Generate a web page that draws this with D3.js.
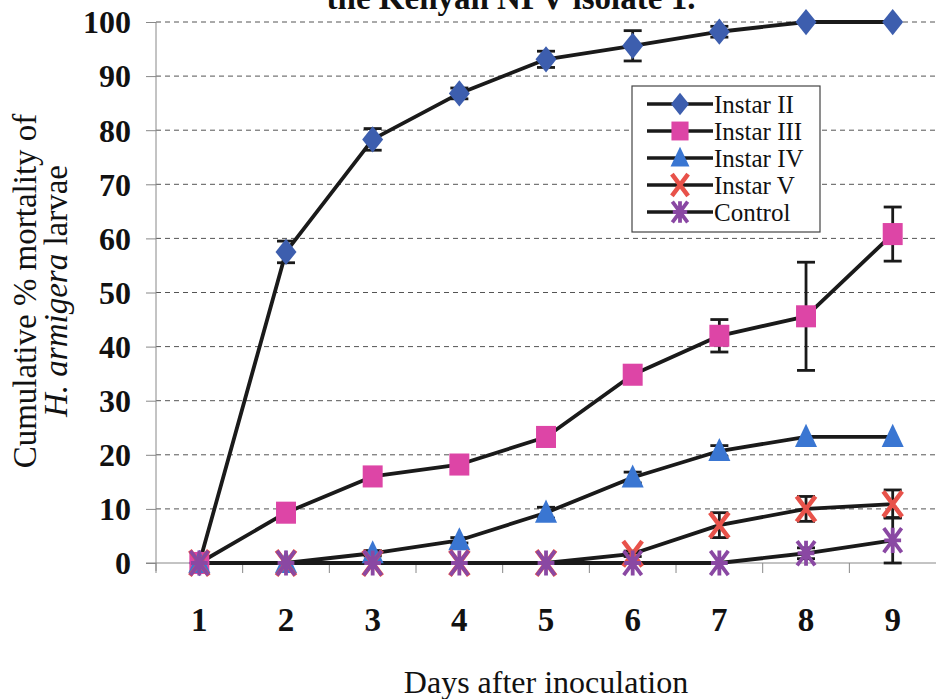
<!DOCTYPE html>
<html><head><meta charset="utf-8">
<script src="https://cdn.jsdelivr.net/npm/d3@7"></script>
<style>body{margin:0;background:#fff}svg{display:block}</style>
</head><body><svg id="c" width="936" height="699"></svg>
<script>
const days = ["1","2","3","4","5","6","7","8","9"];
const yTicks = [0,10,20,30,40,50,60,70,80,90,100];
const seriesNames = ["Instar II","Instar III","Instar IV","Instar V","Control"];
const instarII   = [0,57.5,78.3,86.8,93.1,95.6,98.2,100,100];
const instarIIErr= [0,2,2,1,1.5,2.8,1,0,0];
const instarIII  = [0,9.3,16,18.2,23.3,34.8,42,45.6,60.8];
const instarIIIErr=[0,1.5,1,1,1,1,3,10,5];
const instarIV   = [0,0,1.8,4.2,9.3,15.8,20.7,23.3,23.3];
const instarIVErr= [0,0,0.5,0.5,1,1,1,0,0];
const instarV    = [0,0,0,0,0,1.7,7,10,10.9];
const instarVErr = [0,0,0,0,0,0.5,2.3,2.3,2.6];
const control    = [0,0,0,0,0,0,0,1.8,4.2];
const controlErr = [0,0,0,0,0,0,0,1,4.2];
const colors = ["#3d5eae","#dd45a6","#3a76d2","#e8524a","#8a48a3"];
const shapes = ["diamond","square","triangle","x","asterisk"];
const values = [instarII,instarIII,instarIV,instarV,control];
const errs = [instarIIErr,instarIIIErr,instarIVErr,instarVErr,controlErr];
const FONT = "Liberation Serif";

const svg = d3.select("#c").attr("font-family",FONT);
const L=156,R=936,T=22,B=563;
const x = d3.scaleBand().domain(days).range([L,L+9*86.67]);
const y = d3.scaleLinear().domain([0,100]).range([B,T]);
const cx = d => x(d)+x.bandwidth()/2;

// title (partially clipped at top, as in the reference)
svg.append("text").attr("x",511).attr("y",9).attr("text-anchor","middle").attr("font-family",FONT)
  .attr("font-size",33).attr("font-weight","bold").attr("fill","#111").text("the Kenyan NPV isolate 1.");

// gridlines
svg.append("g").selectAll("line").data(yTicks.filter(t=>t>0)).join("line")
  .attr("x1",L).attr("x2",R).attr("y1",d=>y(d)).attr("y2",d=>y(d))
  .attr("stroke","#555").attr("stroke-width",1).attr("stroke-dasharray","5,4");

// y axis
const ya = svg.append("g").attr("transform",`translate(${L},0)`)
  .call(d3.axisLeft(y).tickValues(yTicks).tickSize(10).tickPadding(15));
ya.attr("font-family",FONT);
ya.select(".domain").attr("stroke","#888").attr("d",`M0,${B+8}V${T}`);
ya.selectAll(".tick line").attr("stroke","#888");
ya.selectAll("text").attr("font-size",32).attr("font-weight","bold")
  .attr("font-family",FONT).attr("fill","#111").attr("dy","0.34em");

// x axis
const xa = svg.append("g").attr("transform",`translate(0,${B})`)
  .call(d3.axisBottom(x).tickSize(0).tickPadding(45));
xa.attr("font-family",FONT);
xa.select(".domain").attr("stroke","#888").attr("d",`M${L-10},0H${R}`);
xa.selectAll("text").attr("font-size",33).attr("font-weight","bold")
  .attr("font-family",FONT).attr("fill","#111");
svg.append("g").selectAll("line").data(days).join("line")
  .attr("x1",d=>x(d)).attr("x2",d=>x(d)).attr("y1",B).attr("y2",B+10)
  .attr("stroke","#888");

// axis titles
svg.append("text").attr("x",546).attr("y",693).attr("text-anchor","middle").attr("font-family",FONT)
  .attr("font-size",32).attr("fill","#111").text("Days after inoculation");
const yt = svg.append("text").attr("transform","translate(36,291) rotate(-90)").attr("font-family",FONT)
  .attr("text-anchor","middle").attr("font-size",33).attr("fill","#111");
yt.append("tspan").attr("x",0).attr("y",0).text("Cumulative % mortality of");
const t2 = yt.append("tspan").attr("x",0).attr("y",31);
t2.append("tspan").attr("font-style","italic").text("H. armigera");
t2.append("tspan").text(" larvae");

function marker(g, shape, color, s){
  if(shape==="diamond") g.append("path").attr("d",`M0,${-s*1.25}L${s},0L0,${s*1.25}L${-s},0Z`).attr("fill",color);
  else if(shape==="square") g.append("rect").attr("x",-s*0.95).attr("y",-s*1.05).attr("width",1.9*s).attr("height",2.1*s).attr("fill",color);
  else if(shape==="triangle") g.append("path").attr("d",`M0,${-s*1.25}L${s*1.05},${s*0.95}L${-s*1.05},${s*0.95}Z`).attr("fill",color);
  else if(shape==="x") g.append("path").attr("d",`M${-s*0.9},${-s*1.2}L${s*0.9},${s*1.2}M${s*0.9},${-s*1.2}L${-s*0.9},${s*1.2}`).attr("stroke",color).attr("stroke-width",4.5).attr("fill","none");
  else g.append("path").attr("d",`M${-s*0.85},${-s*1.15}L${s*0.85},${s*1.15}M${s*0.85},${-s*1.15}L${-s*0.85},${s*1.15}M0,${-s*1.2}V${s*1.2}M${-s*0.8},0H${s*0.8}`).attr("stroke",color).attr("stroke-width",3.8).attr("fill","none");
}

const line = d3.line().x((d,i)=>cx(days[i])).y(d=>y(d));
values.forEach((v,k)=>{
  svg.append("path").datum(v).attr("d",line).attr("fill","none")
    .attr("stroke","#1a1a1a").attr("stroke-width",3.8).attr("stroke-linejoin","round");
});
// error bars
values.forEach((v,k)=>{
  const g = svg.append("g");
  v.forEach((val,i)=>{
    const e = errs[k][i]; if(e<=0) return;
    const X=cx(days[i]);
    const y1=y(val-e), y2=y(val+e);
    g.append("line").attr("x1",X).attr("x2",X).attr("y1",y1).attr("y2",y2).attr("stroke","#1a1a1a").attr("stroke-width",2.8);
    [y1,y2].forEach(yy=>g.append("line").attr("x1",X-9).attr("x2",X+9).attr("y1",yy).attr("y2",yy).attr("stroke","#1a1a1a").attr("stroke-width",2.8));
  });
});
// markers
values.forEach((v,k)=>{
  v.forEach((val,i)=>{
    const g = svg.append("g").attr("transform",`translate(${cx(days[i])},${y(val)})`);
    marker(g,shapes[k],colors[k],10.5);
  });
});

// legend
const lg = svg.append("g");
lg.append("rect").attr("x",632).attr("y",86).attr("width",188).attr("height",146)
  .attr("fill","#fff").attr("stroke","#444").attr("stroke-width",1.2);
const ly = d3.scalePoint().domain(seriesNames).range([104,212]);
seriesNames.forEach((n,k)=>{
  const Y=ly(n);
  lg.append("line").attr("x1",647).attr("x2",713).attr("y1",Y).attr("y2",Y).attr("stroke","#1a1a1a").attr("stroke-width",3.5);
  const g = lg.append("g").attr("transform",`translate(680,${Y})`);
  marker(g,shapes[k],colors[k],9);
  lg.append("text").attr("x",714).attr("y",Y).attr("dy","0.35em").attr("font-size",25).attr("font-family",FONT)
    .attr("fill","#111").text(n);
});
</script></body></html>
